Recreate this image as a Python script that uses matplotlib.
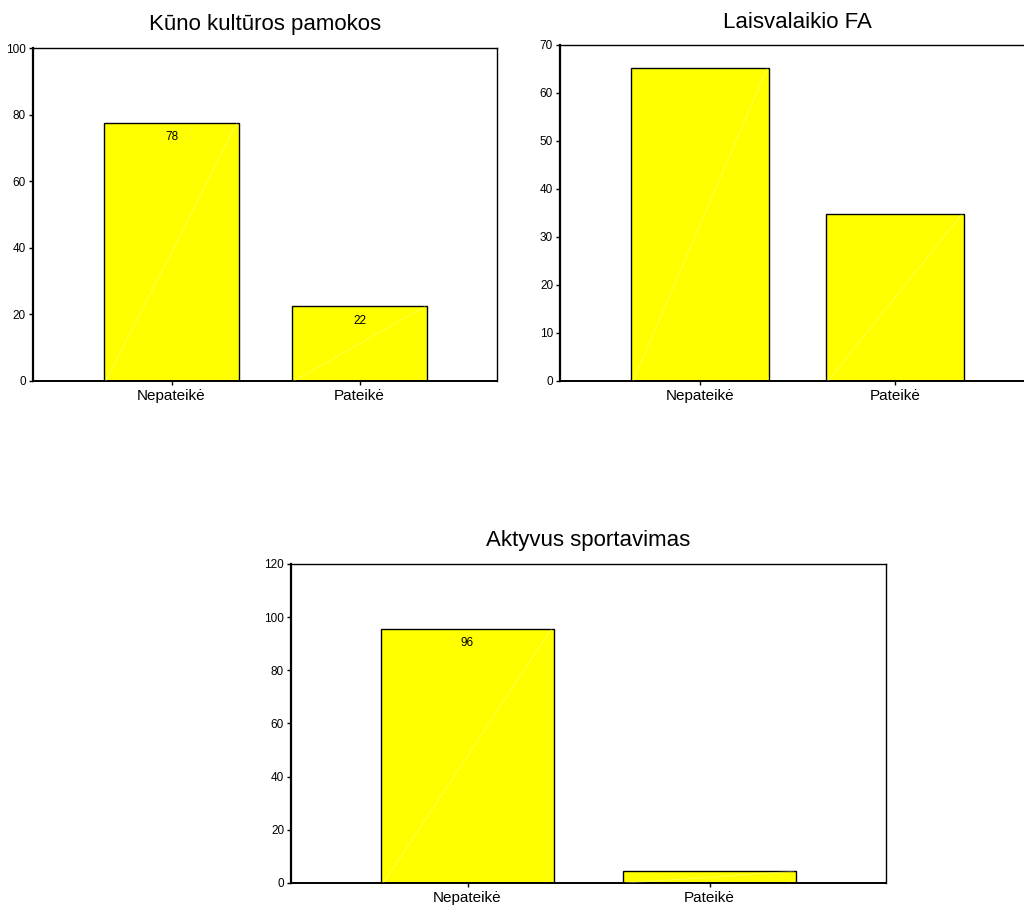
import matplotlib
matplotlib.use("Agg")
import matplotlib.pyplot as plt

plt.rcParams['font.family'] = ['Liberation Sans', 'DejaVu Sans']

categories = ["Nepateikė", "Pateikė"]

title1 = "Kūno kultūros pamokos"
values1 = [77.6, 22.4]
labels1 = ["78", "22"]
yticks1 = [0, 20, 40, 60, 80, 100]

title2 = "Laisvalaikio FA"
values2 = [65.2, 34.8]
labels2 = [None, None]
yticks2 = [0, 10, 20, 30, 40, 50, 60, 70]

title3 = "Aktyvus sportavimas"
values3 = [95.6, 4.4]
labels3 = ["96", None]
yticks3 = [0, 20, 40, 60, 80, 100, 120]

fig = plt.figure(figsize=(10.24, 9.06), dpi=100)

specs = [
    ([0.0322, 0.5795, 0.4531, 0.3672], title1, values1, labels1, yticks1, (-0.737, 1.731), 0.718, 13),
    ([0.5469, 0.5795, 0.4639, 0.3709], title2, values2, labels2, yticks2, (-0.718, 1.718), 0.708, 12),
    ([0.2842, 0.0254, 0.5811, 0.3521], title3, values3, labels3, yticks3, (-0.729, 1.729), 0.715, 13),
]

for rect, title, vals, labs, yt, xl, bw, tpad in specs:
    ax = fig.add_axes(rect)
    x = list(range(len(categories)))
    bars = ax.bar(x, vals, width=bw, color="#FFFF00", edgecolor="black", linewidth=1.0, zorder=2)
    for b in bars:
        x0 = b.get_x()
        ax.plot([x0 + 0.01, x0 + b.get_width() - 0.01], [0, b.get_height()],
                color="white", alpha=0.3, lw=0.7, zorder=3)
    for b, lab in zip(bars, labs):
        if lab:
            ax.annotate(lab, (b.get_x() + b.get_width() / 2, b.get_height()),
                        xytext=(0, -6), textcoords="offset points",
                        ha="center", va="top", fontsize=8.5)
    ax.set_xlim(*xl)
    ax.set_ylim(yt[0], yt[-1])
    ax.set_yticks(yt)
    ax.set_xticks(x)
    ax.set_xticklabels(categories, fontsize=11)
    ax.tick_params(axis="y", labelsize=8.5, length=3, width=1, pad=2)
    ax.tick_params(axis="x", length=3, width=1, pad=3)
    for s in ax.spines.values():
        s.set_linewidth(1.0)
    ax.spines["left"].set_linewidth(1.6)
    ax.spines["bottom"].set_linewidth(1.4)
    ax.set_title(title, fontsize=16, pad=tpad)

fig.savefig("out.png", dpi=100)
